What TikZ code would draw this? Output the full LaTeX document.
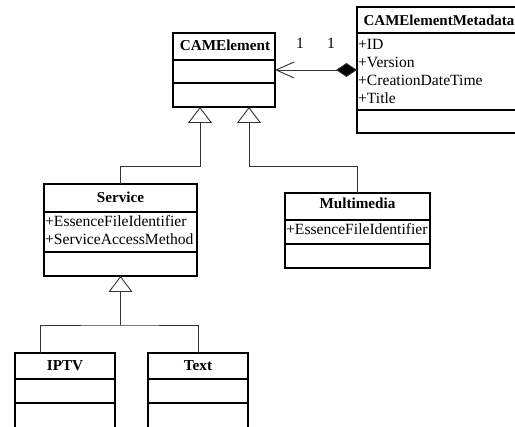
\documentclass[tikz,border=0pt]{standalone}
\usepackage{fontspec}
\setmainfont{Liberation Serif}
\usetikzlibrary{arrows.meta}
\begin{document}
\begin{tikzpicture}[x=1pt,y=-1pt,
 box/.style={draw=black, line width=1.1pt, inner sep=0pt, outer sep=0pt, anchor=north west},
 sep/.style={line width=1.1pt},
 ttl/.style={font=\fontsize{15.2}{18}\selectfont\bfseries, anchor=base, inner sep=0pt},
 attr/.style={font=\fontsize{15.6}{18}\selectfont, anchor=base west, inner sep=0pt},
 mult/.style={font=\fontsize{15.6}{18}\selectfont, anchor=base, inner sep=0pt},
 conn/.style={draw=black!80, line width=0.9pt},
 gen/.style={conn, -{Triangle[open, length=16pt, width=24pt, fill=white, line width=0.9pt]}},
 assoc/.style={conn, {Diamond[length=21pt, width=14pt, fill=black]}-{Straight Barb[length=18pt, width=16pt, line width=0.9pt]}},
 ]
\clip (0,0) rectangle (515,427);
% CAMElement
\node[box, minimum width=102pt, minimum height=74pt] (cam) at (173,33) {};
\draw[sep] (cam.west |- 0,60) -- (cam.east |- 0,60);
\draw[sep] (cam.west |- 0,83) -- (cam.east |- 0,83);
\node[ttl] (camT) at (225,51) {CAMElement};
% CAMElementMetadata
\node[box, minimum width=166pt, minimum height=126pt] (meta) at (357,7) {};
\draw[sep] (meta.west |- 0,33) -- (meta.east |- 0,33);
\draw[sep] (meta.west |- 0,110) -- (meta.east |- 0,110);
\node[ttl, font=\fontsize{15}{18}\selectfont\bfseries] (metaT) at (439,26) {CAMElementMetadata};
\node[attr] (m1) at (358,50) {+ID};
\node[attr] (m2) at (358,67.7) {+Version};
\node[attr] (m3) at (358,85.4) {+CreationDateTime};
\node[attr] (m4) at (358,103.1) {+Title};
% Service
\node[box, minimum width=153pt, minimum height=92pt] (service) at (44,184) {};
\draw[sep] (service.west |- 0,212) -- (service.east |- 0,212);
\draw[sep] (service.west |- 0,252) -- (service.east |- 0,252);
\node[ttl] (serviceT) at (120.5,203) {Service};
\node[attr] (s1) at (45,227) {+EssenceFileIdentifier};
\node[attr] (s2) at (45,245) {+ServiceAccessMethod};
% Multimedia
\node[box, minimum width=145pt, minimum height=75pt] (multi) at (285,193) {};
\draw[sep] (multi.west |- 0,220) -- (multi.east |- 0,220);
\draw[sep] (multi.west |- 0,244) -- (multi.east |- 0,244);
\node[ttl] (multiT) at (357.5,209) {Multimedia};
\node[attr] (mu1) at (286,235) {+EssenceFileIdentifier};
% IPTV
\node[box, minimum width=100pt, minimum height=75pt] (iptv) at (15,353) {};
\draw[sep] (iptv.west |- 0,379) -- (iptv.east |- 0,379);
\draw[sep] (iptv.west |- 0,403) -- (iptv.east |- 0,403);
\node[ttl] (iptvT) at (65,371) {IPTV};
% Text
\node[box, minimum width=100pt, minimum height=75pt] (textc) at (148,353) {};
\draw[sep] (textc.west |- 0,379) -- (textc.east |- 0,379);
\draw[sep] (textc.west |- 0,403) -- (textc.east |- 0,403);
\node[ttl] (textT) at (198,371) {Text};
% association
\draw[assoc] (meta.west) -- (cam.east);
\node[mult] (mul1) at (300,49) {1};
\node[mult] (mul2) at (331,49) {1};
% generalizations
\draw[gen] (service.north) -- ++(0,-18) -| ([xshift=-24pt]cam.south);
\draw[gen] (multi.north) -- ++(0,-27) -| ([xshift=25pt]cam.south);
\coordinate (j) at (service.south |- 0,325);
\draw[conn] ([xshift=-25pt]iptv.north) |- (j) -| (textc.north);
\draw[gen] (j) -- (service.south);
\end{tikzpicture}
\end{document}
